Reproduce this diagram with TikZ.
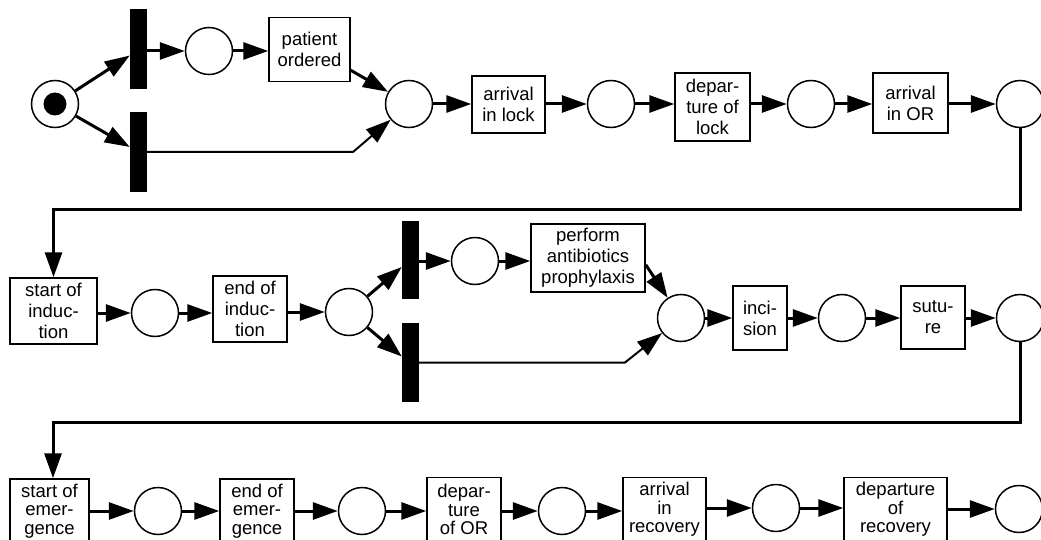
\documentclass[tikz,border=0pt]{standalone}
\usepackage{fontspec}
\setmainfont{Liberation Sans}
\usetikzlibrary{arrows.meta}

\begin{document}
\begin{tikzpicture}[x=1pt,y=-1pt,
  place/.style={circle,draw,line width=1.5pt,minimum size=47pt,inner sep=0pt},
  trans/.style={rectangle,draw,line width=1.5pt,inner sep=0pt,align=center,
    font=\fontsize{18.5}{21}\selectfont},
  lowtrans/.style={trans,font=\fontsize{18.5}{18.5}\selectfont},
  bar/.style={rectangle,fill=black,minimum width=17pt,minimum height=80pt,inner sep=0pt},
  arc/.style={line width=3pt,-{Triangle[length=25pt,width=17pt]}},
  thinarc/.style={line width=2pt,-{Triangle[length=25pt,width=17pt]}},
]
\useasboundingbox (0,0) rectangle (1041,540);
\clip (0,0) rectangle (1041,540);

% ---------- first row: ordering and transport to the OR ----------
\node[place] (start) at (55,104) {};
\fill (start) circle (11.5pt);
\node[bar] (b1) at (138.5,49.5) {};
\node[bar] (b2) at (138.5,152) {};
\node[place] (p1) at (209,51) {};
\node[trans,minimum width=81pt,minimum height=64pt] (po) at (309.5,49.5) {patient\\ordered};
\node[place] (m1) at (409,104) {};
\node[trans,minimum width=73pt,minimum height=57pt] (al) at (508.5,104.5) {arrival\\in lock};
\node[place] (p2) at (611,104) {};
\node[trans,minimum width=75pt,minimum height=68pt] (dl) at (712.5,107) {depar-\\ture of\\lock};
\node[place] (p3) at (811,104) {};
\node[trans,minimum width=75pt,minimum height=60pt] (aor) at (910.5,103) {arrival\\in OR};
\node[place] (p4) at (1020,104) {};

\draw[arc] (start) -- ([yshift=-6pt]b1.west);
\draw[arc] (start) -- ([yshift=5pt]b2.west);
\draw[arc] (b1.east |- p1) -- (p1);
\draw[arc] (p1) -- (p1 -| po.west);
\draw[arc] ([yshift=12pt]po.south east) -- (m1);
\coordinate (k1) at (353,152);
\draw[thinarc] (b2.east) -- (k1) -- (m1);
\draw[arc] (m1) -- (m1 -| al.west);
\draw[arc] (al.east |- p2) -- (p2);
\draw[arc] (p2) -- (p2 -| dl.west);
\draw[arc] (dl.east |- p3) -- (p3);
\draw[arc] (p3) -- (p3 -| aor.west);
\draw[arc] (aor.east |- p4) -- (p4);

% ---------- second row: induction and surgery ----------
\node[trans,minimum width=87pt,minimum height=66pt] (sind) at (53.5,311) {start of\\induc-\\tion};
\node[place] (q1) at (155,313) {};
\node[trans,minimum width=74pt,minimum height=66pt] (eind) at (250,309) {end of\\induc-\\tion};
\node[place] (q2) at (349,312) {};
\node[bar,minimum height=78pt] (b3) at (410.5,260) {};
\node[bar,minimum height=79pt] (b4) at (410.5,362.5) {};
\node[place] (q3) at (475,261) {};
\node[trans,minimum width=114pt,minimum height=68pt] (pap) at (588,258) {perform\\antibiotics\\prophylaxis};
\node[place] (m2) at (681,318) {};
\node[trans,minimum width=54pt,minimum height=64pt] (inc) at (760,318) {inci-\\sion};
\node[place] (q4) at (842,318) {};
\node[trans,minimum width=64pt,minimum height=63pt] (sut) at (933,317.5) {sutu-\\re};
\node[place] (q5) at (1020,318) {};

\coordinate (c1) at (1020,210);
\draw[arc] (p4) -- (c1) -| (sind.north);

\draw[arc] (sind.east |- q1) -- (q1);
\draw[arc] (q1) -- (q1 -| eind.west);
\draw[arc] (eind.east |- q2) -- (q2);
\draw[arc] (q2) -- ([yshift=-7pt]b3.west);
\draw[arc] (q2) -- ([yshift=6pt]b4.west);
\draw[arc] (b3.east |- q3) -- (q3);
\draw[arc] (q3) -- (q3 -| pap.west);
\draw[arc] ([yshift=28pt]pap.south east) -- (m2);
\coordinate (k2) at (625,362.5);
\draw[thinarc] (b4.east) -- (k2) -- (m2);
\draw[arc] (m2) -- (m2 -| inc.west);
\draw[arc] (inc.east |- q4) -- (q4);
\draw[arc] (q4) -- (q4 -| sut.west);
\draw[arc] (sut.east |- q5) -- (q5);

% ---------- third row: emergence and recovery ----------
\node[lowtrans,minimum width=79pt,minimum height=64pt] (sem) at (49.5,511) {start of\\emer-\\gence};
\node[place] (r1) at (158,511) {};
\node[lowtrans,minimum width=74pt,minimum height=64pt] (eem) at (257,511) {end of\\emer-\\gence};
\node[place] (r2) at (362,511) {};
\node[lowtrans,minimum width=74pt,minimum height=64pt] (dor) at (464,509.5) {depar-\\ture\\of OR};
\node[place] (r3) at (562,511) {};
\node[lowtrans,minimum width=83pt,minimum height=64pt] (arec) at (664.5,509.5) {arrival\\in\\recovery};
\node[place] (r4) at (776,508) {};
\node[lowtrans,minimum width=103pt,minimum height=64pt] (drec) at (895.5,509.5) {departure\\of\\recovery};
\node[place] (r5) at (1019,509) {};

\coordinate (c2) at (1020,422);
\draw[arc] (q5) -- (c2) -| ([xshift=3.5pt]sem.north);

\draw[arc] (sem.east |- r1) -- (r1);
\draw[arc] (r1) -- (r1 -| eem.west);
\draw[arc] (eem.east |- r2) -- (r2);
\draw[arc] (r2) -- (r2 -| dor.west);
\draw[arc] (dor.east |- r3) -- (r3);
\draw[arc] (r3) -- (r3 -| arec.west);
\draw[arc] (arec.east |- r4) -- (r4);
\draw[arc] (r4) -- (r4 -| drec.west);
\draw[arc] (drec.east |- r5) -- (r5);
\end{tikzpicture}
\end{document}
